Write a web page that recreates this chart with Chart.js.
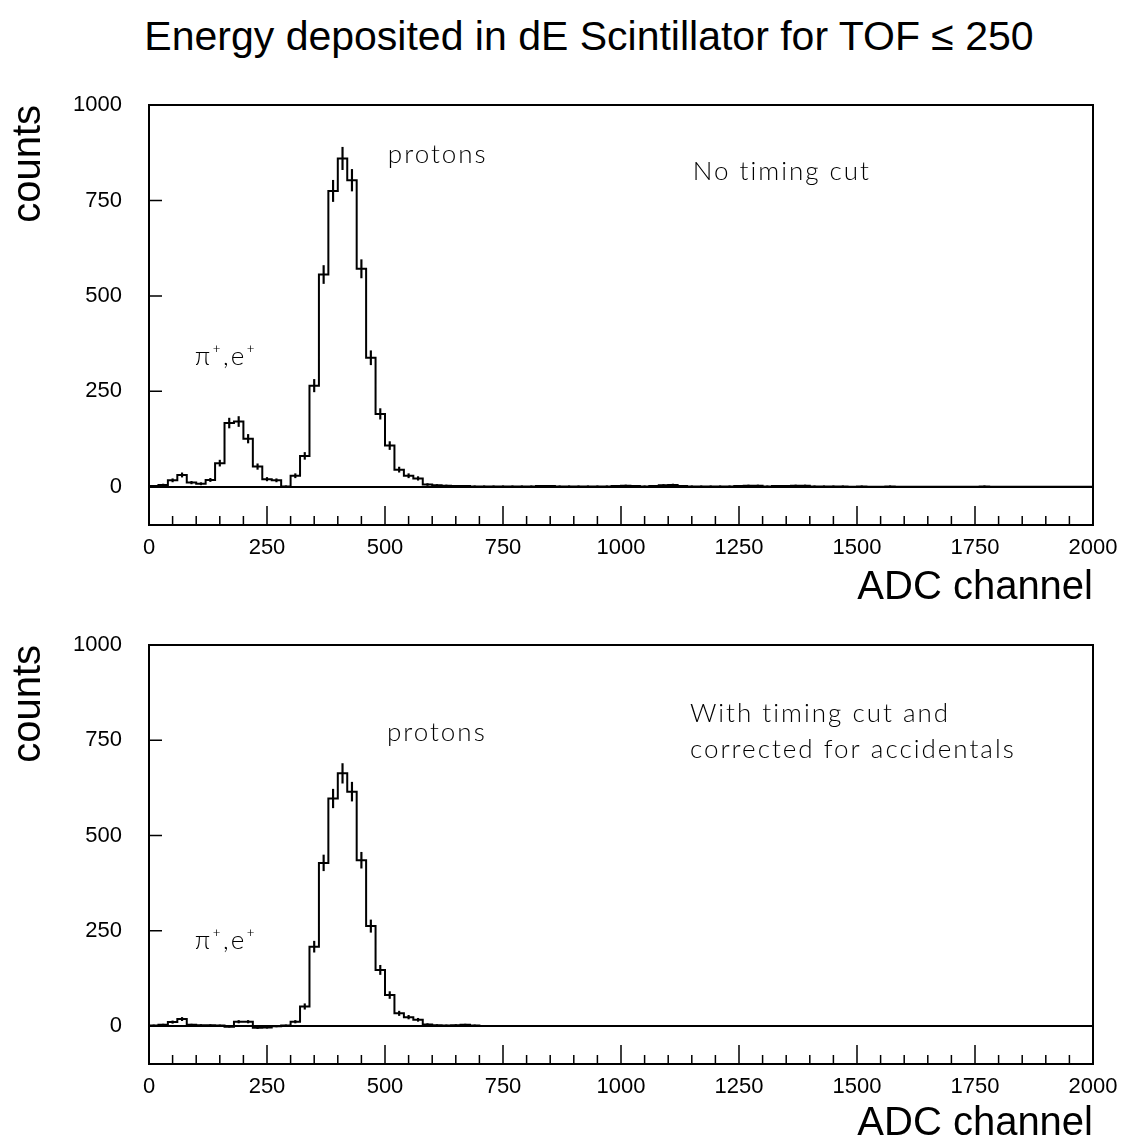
<!DOCTYPE html>
<html><head><meta charset="utf-8">
<script src="https://cdn.jsdelivr.net/npm/chart.js@4.4.1/dist/chart.umd.min.js"></script>
<style>
html,body{margin:0;padding:0;background:#fff;}
body{width:1122px;height:1144px;position:relative;overflow:hidden;}
#title{position:absolute;left:589px;top:16px;transform:translateX(-50%);white-space:nowrap;font:41px/1 "Liberation Sans",Arial,sans-serif;color:#000;}
.wrap{position:absolute;left:0;width:1122px;}
canvas{display:block;}
</style></head><body>
<div id="title">Energy deposited in dE Scintillator for TOF ≤ 250</div>
<div class="wrap" style="top:0;height:610px"><canvas id="c1" width="1122" height="610"></canvas></div>
<div class="wrap" style="top:610px;height:534px"><canvas id="c2" width="1122" height="534"></canvas></div>
<script>
// ---- data ----
const binWidth = 20;               // ADC channels per bin
const xMin = 0, xMax = 2000;
const yMin = -100, yMax = 1000;
const xTickLabels = [0, 250, 500, 750, 1000, 1250, 1500, 1750, 2000];
const yTickLabels = [0, 250, 500, 750, 1000];
const xMinorStep = 50;

// counts per 20-channel bin, "No timing cut"
const topCounts = [
  2, 5, 17, 31, 11, 8, 18, 62, 167, 171,
  126, 53, 20, 17, 1, 29, 81, 265, 556, 775,
  860, 803, 571, 338, 191, 108, 45, 29, 22, 6,
  4, 3, 2, 2, 1, 1, 1, 1, 1, 1,
  1, 2, 2, 1, 1, 1, 1, 1, 1, 2,
  3, 2, 1, 2, 4, 5, 2, 1, 1, 1,
  1, 1, 2, 3, 3, 1, 2, 2, 3, 3,
  1, 1, 1, 1, 0, 1, 0, 0, 1, 0,
  0, 0, 0, 0, 0, 0, 0, 0, 1, 0,
  0, 0, 0, 0, 0, 0, 0, 0, 0, 0
];
// counts per 20-channel bin, "With timing cut and corrected for accidentals"
const bottomCounts = [
  1, 3, 10, 18, 3, 2, 2, 1, -2, 11,
  11, -5, -4, -1, 1, 11, 51, 208, 428, 597,
  663, 615, 435, 262, 147, 81, 33, 23, 16, 4,
  2, 1, 2, 3, 1, 0, 0, 0, 0, 0,
  0, 0, 0, 0, 0, 0, 0, 0, 0, 0,
  0, 0, 0, 0, 0, 0, 0, 0, 0, 0,
  0, 0, 0, 0, 0, 0, 0, 0, 0, 0,
  0, 0, 0, 0, 0, 0, 0, 0, 0, 0,
  0, 0, 0, 0, 0, 0, 0, 0, 0, 0,
  0, 0, 0, 0, 0, 0, 0, 0, 0, 0
];

const topNotes = [
  {text: 'protons', x: 506, y: 870},
  {text: 'No timing cut', x: 1152, y: 825},
  {text: 'π⁺,e⁺', x: 97, y: 340}
];
const bottomNotes = [
  {text: 'protons', x: 504, y: 770},
  {text: 'With timing cut and', x: 1146, y: 820},
  {text: 'corrected for accidentals', x: 1146, y: 725},
  {text: 'π⁺,e⁺', x: 97, y: 225}
];

// ---- helpers ----
function stepPoints(counts) {
  const pts = counts.map((v, i) => ({x: i * binWidth, y: v}));
  pts.push({x: counts.length * binWidth, y: counts[counts.length - 1]});
  return pts;
}
function errorBars(counts) {
  const out = [];
  counts.forEach((v, i) => {
    if (v === 0) return;
    const e = Math.sqrt(Math.abs(v));
    out.push({x: i * binWidth + binWidth / 2, y: [v - e, v + e]});
  });
  return out;
}

const framePlugin = {
  id: 'frame',
  afterDraw(chart, args, opts) {
    const {ctx, chartArea: a, scales: {x, y}} = chart;
    ctx.save();
    ctx.strokeStyle = '#000';
    ctx.lineWidth = 2;
    ctx.strokeRect(a.left, a.top, a.right - a.left, a.bottom - a.top);
    ctx.lineWidth = 1.5;
    ctx.beginPath();
    for (let v = xMin + xMinorStep; v < xMax; v += xMinorStep) {
      const px = x.getPixelForValue(v);
      const len = xTickLabels.includes(v) ? 19 : 9;
      ctx.moveTo(px, a.bottom); ctx.lineTo(px, a.bottom - len);
    }
    for (const v of yTickLabels) {
      const py = y.getPixelForValue(v);
      ctx.moveTo(a.left, py); ctx.lineTo(a.left + 13, py);
    }
    ctx.stroke();
    ctx.fillStyle = '#000';
    ctx.font = '300 26px Lato, "DejaVu Sans", sans-serif';
    if ('letterSpacing' in ctx) ctx.letterSpacing = '2px';
    ctx.textBaseline = 'middle';
    ctx.textAlign = 'left';
    for (const n of (opts.notes || [])) {
      ctx.fillText(n.text, x.getPixelForValue(n.x), y.getPixelForValue(n.y));
    }
    ctx.restore();
  }
};

function makeChart(id, counts, notes, padTop, xHeight, xTitlePad) {
  return new Chart(document.getElementById(id), {
    data: {
      datasets: [
        {
          type: 'line',
          data: stepPoints(counts),
          stepped: 'before',
          borderColor: '#000',
          borderWidth: 2,
          pointRadius: 0,
          fill: false,
          order: 1
        },
        {
          type: 'bar',
          data: errorBars(counts),
          backgroundColor: '#000',
          borderWidth: 0,
          barThickness: 1.5,
          grouped: false,
          order: 2
        }
      ]
    },
    options: {
      responsive: false,
      animation: false,
      events: [],
      layout: {padding: {top: padTop, right: 29, left: 0, bottom: 0}},
      plugins: {legend: {display: false}, tooltip: {enabled: false}, frame: {notes}},
      scales: {
        x: {
          type: 'linear', min: xMin, max: xMax, offset: false,
          grid: {display: false, drawTicks: false, offset: false},
          border: {display: false},
          afterBuildTicks: s => { s.ticks = xTickLabels.map(v => ({value: v})); },
          afterFit: s => { s.height = xHeight; s.paddingLeft = 0; s.paddingRight = 0; },
          ticks: {
            color: '#000', padding: 10, maxRotation: 0, autoSkip: false,
            font: {family: '"Liberation Sans", Arial, sans-serif', size: 22},
            callback: v => String(v)
          },
          title: {
            display: true, text: 'ADC channel', align: 'end', color: '#000',
            font: {family: '"Liberation Sans", Arial, sans-serif', size: 40, lineHeight: 1},
            padding: {top: 0, bottom: xTitlePad}
          }
        },
        y: {
          type: 'linear', min: yMin, max: yMax,
          grid: {
            drawTicks: false,
            color: c => (c.tick && c.tick.value === 0 ? '#000' : 'rgba(0,0,0,0)'),
            lineWidth: 2
          },
          border: {display: false},
          afterBuildTicks: s => { s.ticks = yTickLabels.map(v => ({value: v})); },
          afterFit: s => { s.width = 149; s.paddingTop = 0; s.paddingBottom = 0; },
          ticks: {
            color: '#000', padding: 27,
            font: {family: '"Liberation Sans", Arial, sans-serif', size: 22},
            callback: v => String(v)
          },
          title: {
            display: true, text: 'counts', align: 'end', color: '#000',
            font: {family: '"Liberation Sans", Arial, sans-serif', size: 40, lineHeight: 1},
            padding: {top: 9, bottom: 0}
          }
        }
      }
    },
    plugins: [framePlugin]
  });
}

makeChart('c1', topCounts, topNotes, 105, 85, 2);
makeChart('c2', bottomCounts, bottomNotes, 35, 80, 0);
</script>
</body></html>
